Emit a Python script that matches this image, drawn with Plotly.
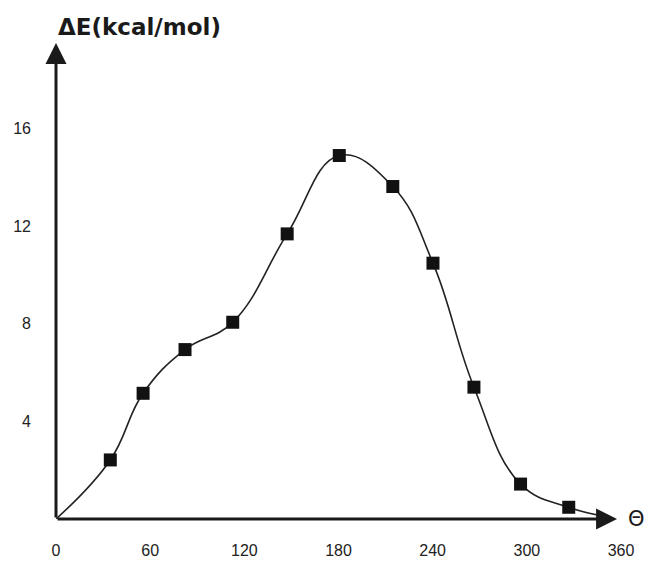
import plotly.graph_objects as go

# Data
theta = [34.6, 55.5, 82.2, 112.6, 147.3, 180.5, 214.6, 240.2, 266.3, 296.0, 326.7]
energy = [2.42, 5.15, 6.94, 8.06, 11.68, 14.89, 13.62, 10.48, 5.40, 1.43, 0.48]
curve_start = (0.0, 0.0)
curve_end = (350.0, 0.1)
x_ticks = [0, 60, 120, 180, 240, 300, 360]
y_ticks = [4, 8, 12, 16]
y_title = "ΔE(kcal/mol)"
x_title = "Θ"

ink = "#1a1a1a"
font_ticks = dict(family="Liberation Sans, Arial, sans-serif", size=16, color="#222222")

fig = go.Figure()

fig.add_trace(go.Scatter(
    x=[curve_start[0]] + theta + [curve_end[0]],
    y=[curve_start[1]] + energy + [curve_end[1]],
    mode="lines",
    line=dict(color="#222222", width=1.6, shape="spline", smoothing=1.2),
    hoverinfo="skip",
    showlegend=False,
    cliponaxis=False,
))

fig.add_trace(go.Scatter(
    x=theta,
    y=energy,
    mode="markers",
    marker=dict(symbol="square", size=13, color="#111111"),
    showlegend=False,
    cliponaxis=False,
))

# Axis arrows
fig.add_annotation(x=0, y=19.5, ax=0, ay=0, xref="x", yref="y", axref="x", ayref="y",
                   text="", showarrow=True, arrowhead=2, arrowsize=1.4, arrowwidth=3,
                   arrowcolor=ink, standoff=0, startstandoff=0)
fig.add_annotation(x=357.5, y=0, ax=0, ay=0, xref="x", yref="y", axref="x", ayref="y",
                   text="", showarrow=True, arrowhead=2, arrowsize=1.4, arrowwidth=3,
                   arrowcolor=ink, standoff=0, startstandoff=0)

# Axis titles
fig.add_annotation(x=0.0, y=1.034, xref="paper", yref="paper", xanchor="left", yanchor="middle",
                   text="<b>" + y_title + "</b>", showarrow=False,
                   font=dict(family="DejaVu Sans, sans-serif", size=23, color=ink))
fig.add_annotation(x=1.028, y=0.0, xref="paper", yref="paper", xanchor="center", yanchor="middle",
                   text=x_title, showarrow=False,
                   font=dict(family="DejaVu Sans, sans-serif", size=21, color=ink))

fig.update_layout(
    width=650, height=561,
    margin=dict(l=56, r=29, t=43, b=42, autoexpand=False),
    paper_bgcolor="white", plot_bgcolor="white",
    xaxis=dict(range=[0, 360], tickvals=x_ticks, ticktext=[str(v) for v in x_ticks],
               showgrid=False, zeroline=False, showline=False, ticks="", automargin=False,
               tickfont=font_ticks, ticklabelstandoff=20, fixedrange=True),
    yaxis=dict(range=[0, 19.5], tickvals=y_ticks, ticktext=[str(v) for v in y_ticks],
               showgrid=False, zeroline=False, showline=False, ticks="", automargin=False,
               tickfont=font_ticks, ticklabelstandoff=24, fixedrange=True),
)

fig.write_html("out.html", config={"displayModeBar": False},
               post_script="document.body.style.margin='0';document.body.style.overflow='hidden';")
